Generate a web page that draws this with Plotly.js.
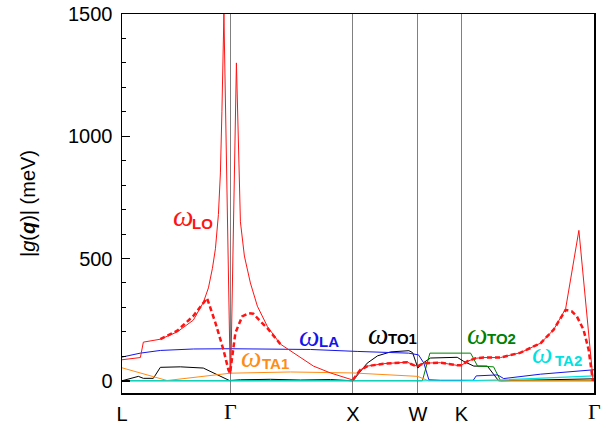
<!DOCTYPE html>
<html>
<head>
<meta charset="utf-8">
<script src="https://cdn.plot.ly/plotly-3.0.1.min.js"></script>
<style>html,body{margin:0;padding:0;background:#fff;}#chart{width:611px;height:428px;}</style>
</head>
<body>
<div id="chart"></div>
<script>
// High-symmetry path positions and labels
const kTicks = [0, 0.868, 1.848, 2.369, 2.717, 3.779];
const kLabels = ['L', 'Γ', 'X', 'W', 'K', 'Γ'];

// omega_LO (solid)
const loX = [0, 0.147, 0.171, 0.307, 0.443, 0.571, 0.651, 0.692, 0.724, 0.748, 0.772, 0.788, 0.800, 0.816, 0.866, 0.871, 0.916, 0.948, 0.980, 1.028, 1.084, 1.164, 1.268, 1.349, 1.429, 1.533, 1.669, 1.848, 1.909, 1.966, 2.094, 2.230, 2.286, 2.334, 2.369, 2.415, 2.551, 2.684, 2.717, 2.767, 2.831, 2.895, 3.031, 3.191, 3.352, 3.456, 3.552, 3.658, 3.772, 3.779];
const loY = [86, 95, 158, 170, 200, 248, 320, 380, 460, 540, 680, 850, 1100, 1500, 30, 30, 1300, 650, 510, 400, 305, 222, 150, 122, 95, 60, 32, 3, 45, 60, 70, 74, 76, 64, 60, 72, 74, 63, 63, 80, 92, 95, 95, 115, 154, 209, 295, 615, 0, 0];

// omega_LO (dashed); null marks a gap in the dashed curve
const lodX = [0.307, 0.443, 0.571, 0.681, 0.748, 0.812, 0.852, 0.865, 0.908, 0.962, 1.012, 1.052, 1.108, 1.164, 1.268, 1.300, 1.848, 1.909, 1.966, 2.094, 2.230, 2.286, 2.334, 2.369, 2.415, 2.551, 2.684, 2.717, 2.767, 2.831, 2.895, 3.031, 3.191, 3.352, 3.456, 3.552, 3.601, 3.642, 3.695, 3.736, 3.770];
const lodY = [170, 205, 265, 338, 237, 127, 45, 31, 196, 263, 276, 274, 243, 215, 150, null, 3, 45, 60, 70, 74, 76, 64, 60, 72, 74, 63, 63, 80, 92, 95, 95, 115, 154, 209, 290, 284, 263, 209, 127, 0];

// omega_LA
const laX = [0, 0.147, 0.307, 0.571, 0.868, 1.509, 1.883, 2.294, 2.374, 2.417, 2.457, 2.551, 2.812, 2.836, 3.007, 3.056, 3.352, 3.779];
const laY = [97, 113, 124, 130, 131, 128, 120, 113, 106, 72, 4, 2, 2, 20, 24, 9, 27, 45];

// omega_TA1
const ta1X = [0, 0.361, 0.868, 1.349, 1.848, 2.366, 2.454, 3.779];
const ta1Y = [53, 1, 31, 36, 32, 18, 0, 0];

// omega_TO1
const to1X = [0, 0.131, 0.171, 0.251, 0.307, 0.467, 0.651, 0.708, 0.764, 0.860, 0.948, 1.188, 1.429, 1.669, 1.848, 1.963, 2.046, 2.150, 2.297, 2.327, 2.350, 2.369, 2.417, 2.470, 2.684, 2.737, 2.817, 2.925, 3.015, 3.352, 3.779];
const to1Y = [0, 18, 10, 10, 55, 57, 52, 38, 25, 1, 4, 6, 3, 5, 0, 72, 102, 118, 123, 115, 80, 52, 75, 93, 96, 79, 60, 60, 0, 3, 8];

// omega_TO2
const to2X = [0, 2.405, 2.465, 2.791, 2.847, 2.975, 3.031, 3.779];
const to2Y = [0, 0, 113, 113, 60, 57, 0, 0];

// omega_TA2
const ta2X = [0, 2.711, 3.056, 3.779];
const ta2Y = [0, 0, 4, 20];

const RED = 'rgb(255,20,20)', BLUE = 'rgb(20,20,235)', ORANGE = 'rgb(255,140,20)',
      GREEN = 'rgb(0,128,0)', CYAN = 'rgb(0,225,225)', BLACK = 'rgb(0,0,0)';

const traces = [
  {x: to1X, y: to1Y, mode: 'lines', line: {color: BLACK, width: 1}},
  {x: to2X, y: to2Y, mode: 'lines', line: {color: GREEN, width: 1}},
  {x: ta1X, y: ta1Y, mode: 'lines', line: {color: ORANGE, width: 1}},
  {x: laX, y: laY, mode: 'lines', line: {color: BLUE, width: 1}},
  {x: ta2X, y: ta2Y, mode: 'lines', line: {color: CYAN, width: 1.2}},
  {x: loX, y: loY, mode: 'lines', line: {color: RED, width: 1}},
  {x: lodX, y: lodY, mode: 'lines', connectgaps: false, line: {color: RED, width: 2.5, dash: '5px,3px'}}
].map(t => Object.assign(t, {showlegend: false, hoverinfo: 'skip'}));

function lbl(x, y, sx, sy, sub, color) {
  return [
    {x: x, y: y, xref: 'x', yref: 'y', text: 'ω', showarrow: false, xanchor: 'left', yanchor: 'middle',
     font: {family: 'Liberation Serif', size: 29, style: 'italic', color: color}},
    {x: sx, y: sy, xref: 'x', yref: 'y', text: sub, showarrow: false, xanchor: 'left', yanchor: 'middle',
     font: {family: 'Liberation Sans', size: 15, weight: 'bold', color: color}}
  ];
}

// Greek Γ tick labels drawn in a serif face at the tick positions
const gammaLabels = kTicks.map((k, i) => kLabels[i] === 'Γ' ? {
  x: k, y: -0.05, xref: 'x', yref: 'paper', text: 'Γ', showarrow: false,
  xanchor: 'center', yanchor: 'middle', font: {family: 'Liberation Serif', size: 22, color: '#000'}
} : null).filter(a => a);

const annotations = [].concat(
  lbl(0.395, 675, 0.547, 643, 'LO', RED),
  lbl(1.405, 184, 1.565, 160, 'LA', BLUE),
  lbl(0.940, 98, 1.108, 70, 'TA1', ORANGE),
  lbl(1.950, 192, 2.110, 172, 'TO1', BLACK),
  lbl(2.745, 192, 2.905, 172, 'TO2', GREEN),
  lbl(3.270, 115, 3.450, 82, 'TA2', CYAN),
  gammaLabels
);

const layout = {
  width: 611, height: 428,
  margin: {l: 122, r: 17, t: 14, b: 35},
  paper_bgcolor: '#fff', plot_bgcolor: '#fff',
  font: {family: 'Liberation Sans', color: '#000'},
  xaxis: {
    range: [0, 3.779], tickvals: kTicks,
    ticktext: kLabels.map(s => s === 'Γ' ? ' ' : s),
    ticks: '', showgrid: true, gridcolor: '#808080', gridwidth: 1, zeroline: false,
    showline: true, mirror: true, linecolor: '#000', linewidth: 1.5,
    tickfont: {size: 20, family: 'Liberation Sans'}, ticklabelstandoff: 2
  },
  yaxis: {
    range: [-50, 1500], tickvals: [0, 500, 1000, 1500],
    ticks: 'inside', ticklen: 8, tickwidth: 1.5, tickcolor: '#000',
    minor: {dtick: 100, tick0: 0, ticks: 'inside', ticklen: 4, tickwidth: 1, tickcolor: '#000'},
    showgrid: false, zeroline: false,
    showline: true, mirror: true, linecolor: '#000', linewidth: 1.5,
    tickfont: {size: 20, family: 'Liberation Sans'}, ticklabelstandoff: 4,
    title: {text: '|<i>g</i>(<b><i>q</i></b>)| (meV)', font: {size: 20, family: 'Liberation Sans'}, standoff: 27}
  },
  annotations: annotations
};

Plotly.newPlot('chart', traces, layout, {displayModeBar: false, staticPlot: true});
</script>
</body>
</html>
